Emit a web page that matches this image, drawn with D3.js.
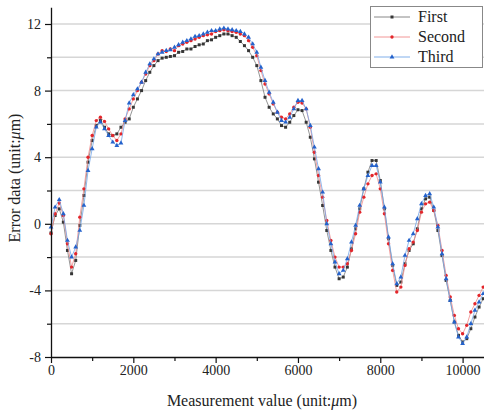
<!DOCTYPE html>
<html>
<head>
<meta charset="utf-8">
<script src="https://cdn.jsdelivr.net/npm/d3@7"></script>
<style>
  body { margin: 0; background: #fff; }
  svg text { font-family: "Liberation Serif", "Times New Roman", serif !important; }
</style>
</head>
<body>
<div class="canvas"></div>
<script>
// Measurement positions (um), one sample every 100 um
const positions = d3.range(0, 10501, 100);

// Error data (um)
const first = [
  -0.55, 0.5, 0.9, 0.1, -1.6, -3.0, -2.2, -0.1, 1.7, 3.7,
  5.0, 5.9, 6.2, 5.8, 5.4, 5.3, 5.4, 5.8, 6.1, 6.3,
  7.0, 7.5, 8.0, 8.6, 9.1, 9.5, 9.8, 9.95, 10.0, 10.05,
  10.1, 10.3, 10.35, 10.5, 10.5, 10.65, 10.75, 10.8, 11.0, 11.05,
  11.2, 11.3, 11.4, 11.4, 11.3, 11.2, 10.95, 10.7, 10.4, 10.0,
  9.5, 8.6, 7.6, 7.0, 6.6, 6.3, 5.9, 5.8, 6.1, 6.5,
  6.85, 6.8, 6.1, 5.2, 3.9, 2.5, 1.1, -0.4, -1.6, -2.6,
  -3.3, -3.2, -2.6, -1.5, -0.3, 0.9, 2.1, 3.1, 3.8, 3.8,
  2.6, 0.9, -0.9, -2.5, -3.7, -3.5, -2.4, -1.6, -1.2, -0.3,
  0.9, 1.5, 1.6, 0.8, -0.4, -1.9, -3.4, -4.6, -5.9, -6.7,
  -7.1, -6.9, -6.3, -5.6, -5.0, -4.5
];
const second = [
  -0.6, 0.6, 1.25, 0.5, -1.2, -2.6, -1.8, 0.4, 2.1, 4.0,
  5.3, 6.2, 6.4, 6.15, 5.7, 5.3, 5.0, 5.4, 6.3, 6.9,
  7.5, 8.0, 8.5, 9.0, 9.5, 9.8, 10.2, 10.4, 10.35, 10.5,
  10.4, 10.7, 10.8, 10.9, 11.0, 11.1, 11.2, 11.3, 11.35, 11.4,
  11.55, 11.6, 11.65, 11.6, 11.55, 11.5, 11.4, 11.3, 11.0, 10.6,
  10.1, 9.2, 8.4, 7.8, 7.2, 6.7, 6.4, 6.3, 6.6, 7.0,
  7.3, 7.25, 6.9, 5.8, 4.3, 2.9, 1.6, 0.2, -1.0, -2.0,
  -2.6, -2.6, -2.4, -1.6, -0.6, 0.7, 1.6, 2.4, 2.9, 3.0,
  2.1, 0.6, -1.2, -2.8, -4.1, -3.8, -2.5, -1.5, -1.1, -0.4,
  0.7, 1.2, 1.3, 0.8, -0.1, -1.6, -3.1, -4.4, -5.5, -6.3,
  -6.6, -6.1, -5.3, -4.8, -4.3, -3.8
];
const third = [
  -0.2, 1.0, 1.45, 0.6, -1.0, -2.0, -1.4, -0.4, 1.1, 3.2,
  4.5, 5.8, 6.1, 5.7, 5.3, 4.9, 4.7, 4.85, 6.2, 7.25,
  7.75, 8.1, 8.5, 9.1, 9.6, 9.9, 10.2, 10.3, 10.4, 10.45,
  10.6, 10.75, 10.9, 11.0, 11.1, 11.25, 11.3, 11.4, 11.5, 11.6,
  11.6, 11.7, 11.75, 11.7, 11.65, 11.6, 11.55, 11.4, 11.2, 10.8,
  10.3, 9.4, 8.6, 7.9, 7.3, 6.7, 6.2, 6.1, 6.4, 6.9,
  7.4, 7.4, 6.9, 5.9, 4.6, 3.3, 1.9, 0.0, -1.2, -2.3,
  -3.0, -2.8, -2.1, -1.1, -0.1, 1.1, 2.1, 2.9, 3.5, 3.5,
  2.5, 1.0, -0.8, -2.4, -3.6, -3.2, -1.9, -1.0, -0.6, 0.3,
  1.2, 1.7, 1.8, 1.0, -0.2, -1.8, -3.3, -4.6, -5.9, -6.8,
  -7.2, -6.8, -6.0, -5.2, -4.7, -4.2
];

const seriesNames = ['First', 'Second', 'Third'];
const xTicks = [0, 2000, 4000, 6000, 8000, 10000];
const xMinorTicks = [1000, 3000, 5000, 7000, 9000];
const yTicks = [-8, -4, 0, 4, 8, 12];
const yMinorTicks = [-6, -2, 2, 6, 10];
const gridValues = [-6, -4, -2, 0, 2, 4, 6, 8, 10, 12];

const svgWidth = 484;
const svgHeight = 412;
const serif = '"Liberation Serif", "Times New Roman", serif';

const svg = d3.select('.canvas')
    .append('svg')
    .attr('width', svgWidth)
    .attr('height', svgHeight);

// Scales: plot area spans x 51..484, y 7..357
const x = d3.scaleLinear().domain([0, 10520]).range([51, 484]);
const y = d3.scaleLinear().domain([-8, 13]).range([357, 7.35]);

// Horizontal gridlines
svg.append('g')
    .selectAll('line')
    .data(gridValues)
    .enter()
    .append('line')
    .attr('x1', x(0))
    .attr('x2', x(10520))
    .attr('y1', d => y(d))
    .attr('y2', d => y(d))
    .attr('stroke', '#d6d6d6')
    .attr('stroke-width', 1.5);

const styles = [
    { line: '#7a7a7a', fill: '#363636', shape: d3.symbolSquare, size: 9 },
    { line: '#f08a8a', fill: '#e3262b', shape: d3.symbolCircle, size: 9 },
    { line: '#73a6e8', fill: '#2462cc', shape: d3.symbolTriangle, size: 10 }
];
const allSeries = [first, second, third];

const line = d3.line()
    .x((d, i) => x(positions[i]))
    .y(d => y(d));

allSeries.forEach((values, k) => {
    const s = styles[k];
    const g = svg.append('g').attr('class', 'series');
    g.append('path')
        .datum(values)
        .attr('d', line)
        .attr('fill', 'none')
        .attr('stroke', s.line)
        .attr('stroke-width', 0.8);
    g.selectAll('.marker')
        .data(values)
        .enter()
        .append('path')
        .attr('class', 'marker')
        .attr('transform', (d, i) => `translate(${x(positions[i])},${y(d)})`)
        .attr('d', d3.symbol().type(s.shape).size(s.size))
        .attr('fill', s.fill);
});

// Axes
svg.append('g')
    .attr('transform', `translate(0, ${y(-8)})`)
    .call(d3.axisBottom(x).tickValues(xTicks).tickSize(6).tickSizeOuter(0).tickPadding(2).tickFormat(d => d));
svg.append('g')
    .attr('transform', `translate(0, ${y(-8)})`)
    .call(d3.axisBottom(x).tickValues(xMinorTicks).tickSize(4).tickFormat(''))
    .select('.domain').remove();

svg.append('g')
    .attr('transform', `translate(${x(0)}, 0)`)
    .call(d3.axisLeft(y).tickValues(yTicks).tickSize(6).tickSizeOuter(0).tickPadding(4).tickFormat(d => String(d)));
svg.append('g')
    .attr('transform', `translate(${x(0)}, 0)`)
    .call(d3.axisLeft(y).tickValues(yMinorTicks).tickSize(4).tickFormat(''))
    .select('.domain').remove();

svg.selectAll('.domain').attr('stroke', '#111').attr('stroke-width', 1.3);
svg.selectAll('.tick line').attr('stroke', '#111').attr('stroke-width', 1.2);
svg.selectAll('.tick text')
    .style('font-family', serif)
    .style('font-size', '14px')
    .attr('fill', '#222');

// Axis titles
const xTitle = svg.append('text')
    .attr('x', 262)
    .attr('y', 406)
    .attr('text-anchor', 'middle')
    .style('font-size', '16px')
    .attr('fill', '#222');
xTitle.append('tspan').text('Measurement value (unit:');
xTitle.append('tspan').attr('font-style', 'italic').text('μ');
xTitle.append('tspan').text('m)');

const yTitle = svg.append('text')
    .attr('transform', 'translate(20, 178) rotate(-90)')
    .attr('text-anchor', 'middle')
    .style('font-size', '16px')
    .attr('fill', '#222');
yTitle.append('tspan').text('Error data (unit:');
yTitle.append('tspan').attr('font-style', 'italic').text('μ');
yTitle.append('tspan').text('m)');

// Legend
const legend = svg.append('g');
legend.append('rect')
    .attr('x', 370.5)
    .attr('y', 6.5)
    .attr('width', 112)
    .attr('height', 61)
    .attr('fill', '#fff')
    .attr('stroke', '#888')
    .attr('stroke-width', 1);

seriesNames.forEach((name, k) => {
    const s = styles[k];
    const ly = 17 + k * 20;
    legend.append('line')
        .attr('x1', 374).attr('x2', 410)
        .attr('y1', ly).attr('y2', ly)
        .attr('stroke', s.line)
        .attr('stroke-width', 0.9);
    legend.append('path')
        .attr('transform', `translate(392, ${ly})`)
        .attr('d', d3.symbol().type(s.shape).size(s.size))
        .attr('fill', s.fill);
    legend.append('text')
        .attr('x', 418)
        .attr('y', ly + 5)
        .style('font-size', '16px')
        .attr('fill', '#222')
        .text(name);
});
</script>
</body>
</html>
